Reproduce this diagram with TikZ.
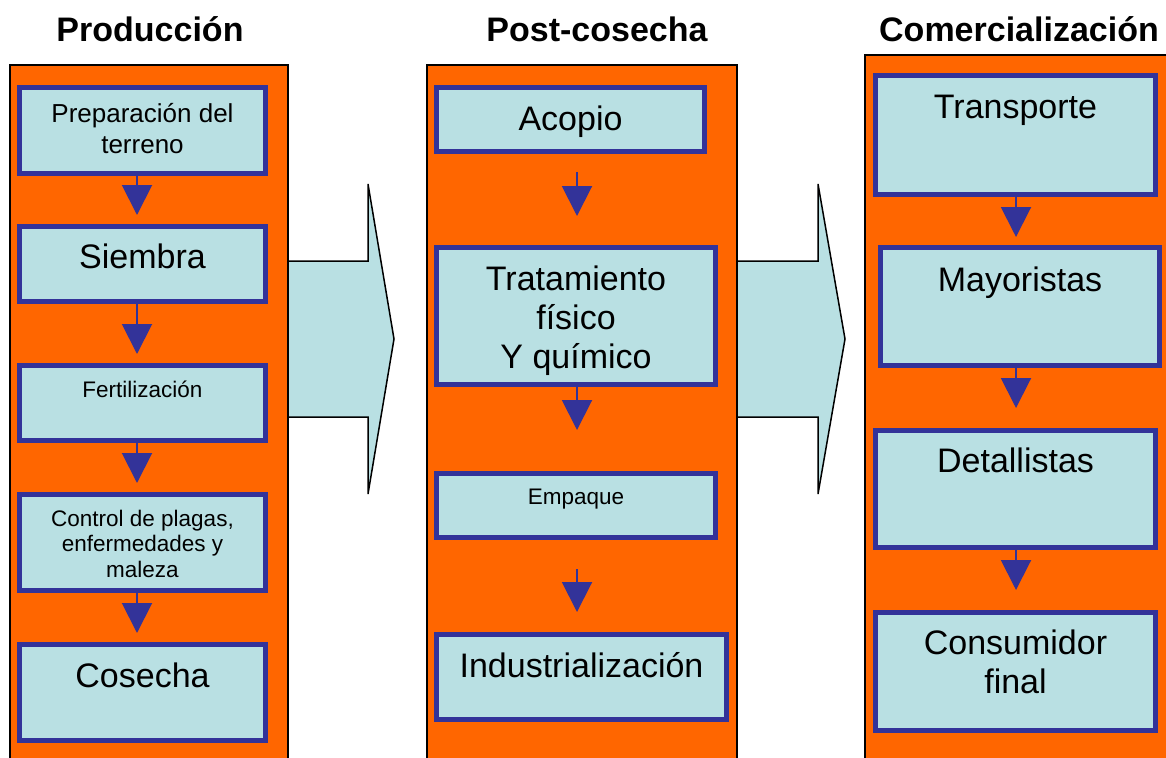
\documentclass[tikz,border=0pt]{standalone}
\usepackage{fontspec}
\setmainfont{Liberation Sans}
\usetikzlibrary{arrows.meta}

\definecolor{naranja}{HTML}{FF6600}
\definecolor{celeste}{HTML}{B9E0E3}
\definecolor{azul}{HTML}{333399}

\begin{document}
\begin{tikzpicture}[x=1pt, y=-1pt]
      \useasboundingbox (0,0) rectangle (1166,757);
      \tikzstyle{every node}=[inner sep=0pt]
      \tikzstyle{box}=[draw=azul, fill=celeste, line width=5pt, rectangle]
      \tikzstyle{big}=[font=\fontsize{34}{39}\selectfont, align=center, anchor=base]
      \tikzstyle{mid}=[font=\fontsize{26}{30}\selectfont, align=center, anchor=base]
      \tikzstyle{small}=[font=\fontsize{22.5}{25.5}\selectfont, align=center, anchor=base]
      \tikzstyle{title}=[font=\fontsize{34}{39}\selectfont\bfseries, anchor=base]
      \tikzstyle{flow}=[draw=azul, line width=2pt, -{Triangle[width=30pt, length=30pt, fill=azul]}]
      \tikzstyle{bigarrow}=[draw=black, line width=1.5pt, fill=celeste, line join=miter]

      % flechas grandes entre etapas
      \draw[bigarrow] (280,261) -- (368,261) -- (368,184) -- (394,339)
        -- (368,494) -- (368,417) -- (280,417) -- cycle;
      \draw[bigarrow] (730,261) -- (818,261) -- (818,184) -- (845,339)
        -- (818,494) -- (818,417) -- (730,417) -- cycle;

      % columnas
      \draw[fill=naranja, line width=1.5pt] (10,65) rectangle (288,770);
      \draw[fill=naranja, line width=1.5pt] (427,65) rectangle (737,770);
      \draw[fill=naranja, line width=1.5pt] (865,55) rectangle (1180,770);

      \node[title] (t1) at (150,42) {Producción};
      \node[title] (t2) at (597,42) {Post-cosecha};
      \node[title] (t3) at (1019,42) {Comercialización};

      \foreach \n/\x/\y/\w/\h in {prep/142.5/130.5/246/86, siem/142.5/264/246/75,
        fert/142.5/403/246/75, ctrl/142.5/542.5/246/96, cose/142.5/692.5/246/96,
        acop/570.5/119.5/268/64, trat/576/316/279/137, empq/576/505.5/279/64,
        indu/581.5/677/290/85, tran/1015.5/135/280/119, mayo/1020/306.5/279/118,
        deta/1015.5/489/280/117, cons/1015.5/671.5/280/118}
      {
        \node[box, minimum width=\w pt, minimum height=\h pt] (\n) at (\x,\y) {};
      }

      % textos (base = linea final)
      \node[mid] (prep-t) at (prep |- 0,153) {Preparación del\\terreno};
      \node[big] (siem-t) at (siem |- 0,268) {Siembra};
      \node[small] (fert-t) at (fert |- 0,397) {Fertilización};
      \node[small] (ctrl-t) at (ctrl |- 0,577) {Control de plagas,\\enfermedades y\\maleza};
      \node[big] (cose-t) at (cose |- 0,687) {Cosecha};
      \node[big] (acop-t) at (acop |- 0,130) {Acopio};
      \node[big] (trat-t) at (trat |- 0,368) {Tratamiento\\físico\\Y químico};
      \node[small] (empq-t) at (empq |- 0,504) {Empaque};
      \node[big] (indu-t) at (indu |- 0,677) {Industrialización};
      \node[big] (tran-t) at (tran |- 0,119) {Transporte};
      \node[big] (mayo-t) at (mayo |- 0,291) {Mayoristas};
      \node[big] (deta-t) at (deta |- 0,472) {Detallistas};
      \node[big] (cons-t) at (cons |- 0,693) {Consumidor\\final};

      % flechas de flujo
      \foreach \a/\b in {prep/siem, siem/fert, fert/ctrl, ctrl/cose}
      {
        \draw[flow, shorten >=9pt] ([xshift=-5.5pt]\a.south) -- ([xshift=-5.5pt]\b.north);
      }
      \draw[flow, shorten <=18pt, shorten >=29pt] ([xshift=6.5pt]acop.south) -- ([xshift=1pt]trat.north);
      \draw[flow, shorten >=41pt] ([xshift=1pt]trat.south) -- ([xshift=1pt]empq.north);
      \draw[flow, shorten <=29pt, shorten >=20pt] ([xshift=1pt]empq.south) -- ([xshift=-4.5pt]indu.north);
      \draw[flow, shorten >=8pt] ([xshift=0.5pt]tran.south) -- ([xshift=-4pt]mayo.north);
      \draw[flow, shorten >=20pt] ([xshift=-4pt]mayo.south) -- ([xshift=0.5pt]deta.north);
      \draw[flow, shorten >=20pt] ([xshift=0.5pt]deta.south) -- ([xshift=0.5pt]cons.north);
\end{tikzpicture}
\end{document}
